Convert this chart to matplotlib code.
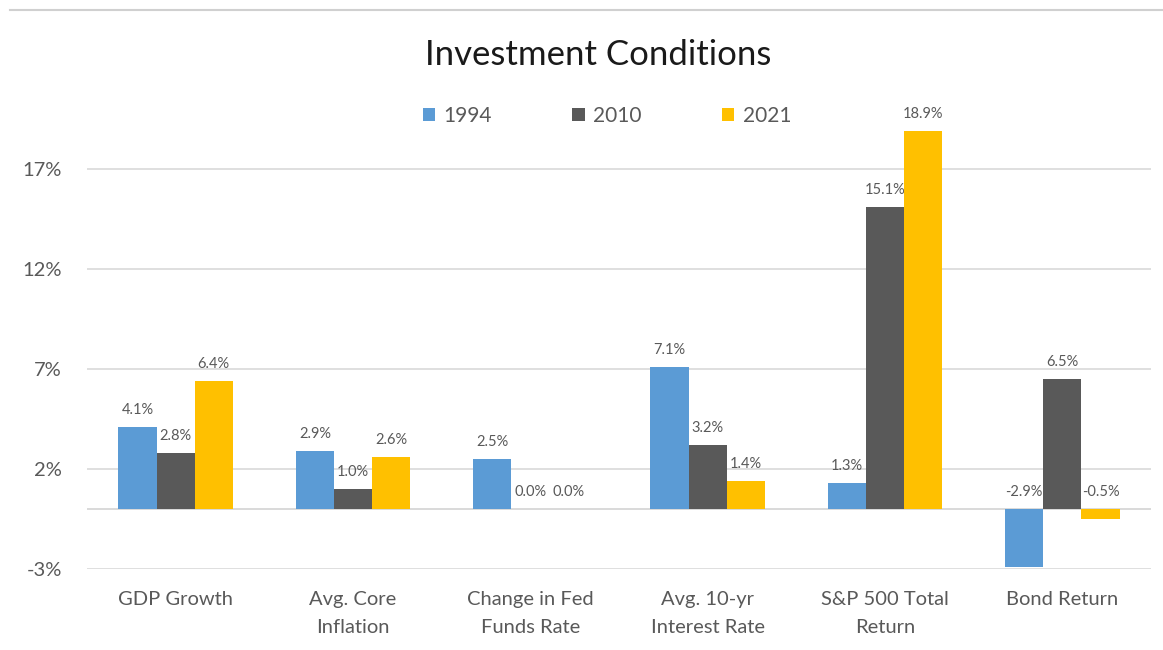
import matplotlib
matplotlib.use('Agg')
import matplotlib.pyplot as plt
import numpy as np
from matplotlib.lines import Line2D

# chart data
categories = ['GDP Growth', 'Avg. Core\nInflation', 'Change in Fed\nFunds Rate',
              'Avg. 10-yr\nInterest Rate', 'S&P 500 Total\nReturn', 'Bond Return']
years = ['1994', '2010', '2021']
vals_1994 = [4.1, 2.9, 2.5, 7.1, 1.3, -2.9]
vals_2010 = [2.8, 1.0, 0.0, 3.2, 15.1, 6.5]
vals_2021 = [6.4, 2.6, 0.0, 1.4, 18.9, -0.5]
colors = ['#5B9BD5', '#595959', '#FFC000']
yticks = [-3, 2, 7, 12, 17]

plt.rcParams['font.family'] = ['Lato', 'DejaVu Sans']
txt = '#595959'

fig = plt.figure(figsize=(11.63, 6.5), dpi=100)
# axes placed in pixel terms: x 87..1151, y(-3)=569px, y(20)=109px
W, H = 1163, 650
ax = fig.add_axes([87 / W, 1 - 569 / H, (1151 - 87) / W, (569 - 109) / H])

x = np.arange(len(categories))
bw = 0.215
series = [vals_1994, vals_2010, vals_2021]
for i, (vals, c, lab) in enumerate(zip(series, colors, years)):
    pos = x + (i - 1) * bw
    ax.bar(pos, vals, width=bw, color=c, label=lab, zorder=3)
    for px, v in zip(pos, vals):
        ax.annotate(f'{v:.1f}%', (px, max(v, 0)), xytext=(0, 7), textcoords='offset points',
                    ha='center', va='bottom', fontsize=10.5, color=txt)

ax.set_xlim(-0.5, len(categories) - 0.5)
ax.set_ylim(-3, 20)
ax.set_yticks(yticks)
ax.set_yticklabels([f'{t}%' for t in yticks], fontsize=14.5, color=txt)
ax.set_xticks(x)
ax.set_xticklabels(categories, fontsize=14.5, color=txt, linespacing=1.8)
ax.tick_params(axis='both', length=0)
ax.tick_params(axis='y', pad=18)
ax.tick_params(axis='x', pad=16)
for s in ax.spines.values():
    s.set_visible(False)
ax.grid(axis='y', color='#D9D9D9', linewidth=1.2, zorder=0)
ax.axhline(0, color='#D9D9D9', linewidth=1.4, zorder=2)

fig.text(598 / W, 1 - 55 / H, 'Investment Conditions', ha='center', va='center',
         fontsize=25, color='#1a1a1a')

leg = fig.legend(loc='center', bbox_to_anchor=(607 / W, 1 - 116 / H), ncol=3, frameon=False,
                 fontsize=15, handlelength=0.6, handleheight=0.6, handletextpad=0.4,
                 columnspacing=3.85)
for t in leg.get_texts():
    t.set_color(txt)

# thin border line at top of the chart
fig.add_artist(Line2D([10 / W, 1], [1 - 10 / H, 1 - 10 / H], color='#D0D0D0', linewidth=1.5))

fig.savefig('out.png', dpi=100, facecolor='white')
